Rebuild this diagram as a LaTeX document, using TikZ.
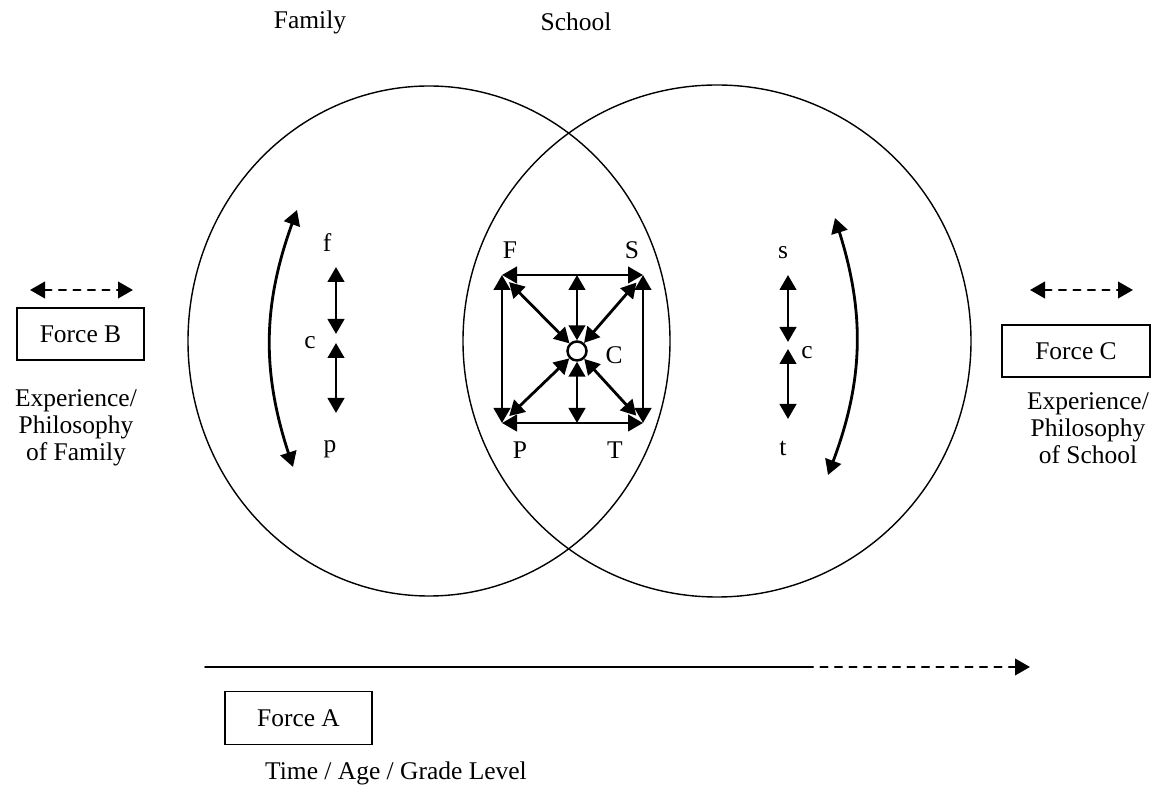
\documentclass[tikz,border=0pt]{standalone}
\usepackage{fontspec}
\setmainfont{Liberation Serif}
\usepackage{tikz}
\usetikzlibrary{arrows,arrows.meta}
\tikzset{>={Triangle[length=3mm,width=3.3mm]}}
\usetikzlibrary{shapes,positioning}

\begin{document}
\begin{tikzpicture}[x=0.2mm,y=-0.2mm,line cap=round,
  every node/.style={font=\fontsize{14.5}{15.2}\selectfont},
  forcebox/.style={draw,line width=0.8pt,minimum height=10.4mm,inner sep=0pt},
  twoway/.style={<->,line width=1.6pt},
  dashway/.style={line width=1.3pt,dash pattern=on 1.4mm off 1.5mm},
  sphere/.style={line width=0.8pt}]

  \useasboundingbox (0,0) rectangle (1167,791);


  % family and school
  \draw [sphere] (429,341) ellipse [x radius=48.2mm,y radius=51mm];
  \draw [sphere] (717,341) ellipse [x radius=50.8mm,y radius=51.2mm];

  \node (family) at (310,22) {Family};
  \node (school) at (576,22) {School};


  % overlap: the square
  \coordinate (F) at (502,275);
  \coordinate (S) at (643,275);
  \coordinate (P) at (502,423);
  \coordinate (T) at (643,423);
  \node [draw,circle,line width=1.4pt,minimum size=3.8mm,inner sep=0pt] (C0) at (577,351) {};

  \draw [twoway] (F) -- (S);
  \draw [twoway] (S) -- (T);
  \draw [twoway] (T) -- (P);
  \draw [twoway] (P) -- (F);

  \draw [twoway,shorten <=2mm] (F) -- (C0);
  \draw [twoway,shorten <=2mm] (S) -- (C0);
  \draw [twoway,shorten <=2mm] (P) -- (C0);
  \draw [twoway,shorten <=2mm] (T) -- (C0);
  \draw [twoway] (C0 |- F) -- (C0);
  \draw [twoway] (C0 |- P) -- (C0);

  \node (Flab) at (510,250) {F};
  \node (Slab) at (632,250) {S};
  \node (Plab) at (520,450) {P};
  \node (Tlab) at (615,450) {T};
  \node (Clab) at (614,355) {C};


  % inside family
  \node (flab) at (327,243) {f};
  \node (cflab) at (310,343) {c};
  \node (plab) at (330,449) {p};
  \coordinate (fa) at (336,267);
  \coordinate (fb) at (336,334);
  \coordinate (fc) at (336,343);
  \coordinate (fd) at (336,413);
  \draw [twoway] (fa) -- (fb);
  \draw [twoway] (fc) -- (fd);
  \coordinate (ftop) at (297,210);
  \coordinate (fbot) at (293,467);
  \draw [twoway] (ftop) to [bend right=19] (fbot);


  % inside school
  \node (slab) at (783,253) {s};
  \node (cslab) at (807,353) {c};
  \node (tlab) at (783,448) {t};
  \coordinate (sa) at (788,275);
  \coordinate (sb) at (788,342);
  \coordinate (sc) at (788,349);
  \coordinate (sd) at (788,419);
  \draw [twoway] (sa) -- (sb);
  \draw [twoway] (sc) -- (sd);
  \coordinate (stop) at (835,218);
  \coordinate (sbot) at (828,475);
  \draw [twoway] (stop) to [bend left=19] (sbot);


  % force B
  \coordinate (bl) at (30,290);
  \coordinate (br) at (133,290);
  \draw [dashway,<->] (bl) -- (br);
  \node [forcebox,minimum width=25.4mm] (forceB) at (80.5,334) {Force B};
  \node [align=center] (famtext) at (76,428) {Experience/\\Philosophy\\of Family};


  % force C
  \coordinate (cl) at (1030,290);
  \coordinate (cr) at (1133,290);
  \draw [dashway,<->] (cl) -- (cr);
  \node [forcebox,minimum width=29.6mm] (forceC) at (1076,351) {Force C};
  \node [align=center] (schtext) at (1088,428) {Experience/\\Philosophy\\of School};


  % force A
  \coordinate (ta) at (205,667);
  \coordinate (tb) at (806,667);
  \coordinate (tc) at (1030,667);
  \draw [line width=1.1pt] (ta) -- (tb);
  \draw [dashway,->] (tb) -- (tc);
  \node [forcebox,minimum width=29.4mm,minimum height=10.6mm] (forceA) at (298.5,718) {Force A};
  \node (timetext) at (396,773) {Time / Age / Grade Level};

\end{tikzpicture}
\end{document}
